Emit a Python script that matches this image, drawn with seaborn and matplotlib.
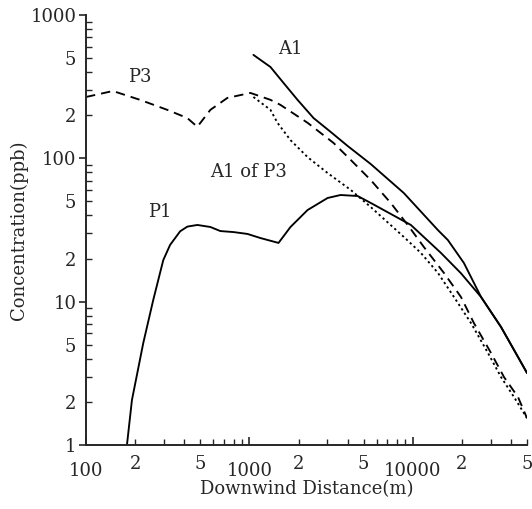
import math
import matplotlib
matplotlib.use("Agg")
import matplotlib.pyplot as plt
import matplotlib.ticker as mticker
import seaborn as sns
import pandas as pd

# values (log-log axes)
a1_x = [1058, 1345, 1617, 1970, 2470, 3141, 3993, 5520, 8810, 14240, 16400, 20560, 26140, 34670, 44060, 50000]
a1_y = [527, 434, 336, 256, 191, 153, 122, 91.4, 57.3, 31.6, 26.9, 18.6, 10.8, 6.66, 4.11, 3.18]

p1_x = [178, 191, 224, 258, 297, 327, 377, 417, 480, 577, 664, 798, 972, 1168, 1507, 1784, 2270, 3010,
        3613, 4598, 5520, 9730, 14860, 19700, 26140, 34670, 44060, 50000]
p1_y = [1.0, 2.06, 5.14, 10.3, 19.5, 24.9, 31.0, 33.4, 34.3, 33.2, 31.1, 30.6, 29.7, 27.8, 25.7, 33.2, 43.6, 52.9,
        55.5, 54.6, 48.9, 34.3, 21.9, 15.8, 10.8, 6.66, 4.11, 3.18]

p3_x = [100, 146, 214, 314, 417, 480, 577, 733, 1014, 1345, 1549, 2270, 3275, 4170, 5520, 7330,
        9310, 11680, 15490, 19700, 23650, 30100, 36150, 44060, 50000]
p3_y = [268, 295, 256, 218, 191, 166, 218, 264, 286, 256, 236, 177, 128, 97.5, 70.7, 48.8,
        34.3, 24.1, 15.9, 10.8, 7.1, 4.39, 2.98, 2.16, 1.54]

a1p3_x = [1058, 1345, 1485, 1784, 2270, 3010, 4170, 5520, 8810, 11200, 14240, 17850, 22700,
          28840, 34670, 41650, 50000]
a1p3_y = [268, 218, 177, 134, 102, 79, 60.2, 45.8, 28.3, 21.9, 15.9, 10.8, 7.1,
          4.39, 2.98, 2.16, 1.54]

series_names = ["A1", "P1", "P3", "A1 of P3"]
label_x = [1784, 284, 214, 986]
label_y = [580, 42.3, 370, 80]

frames = []
for name, xs, ys in zip(series_names,
                        [a1_x, p1_x, p3_x, a1p3_x],
                        [a1_y, p1_y, p3_y, a1p3_y]):
    frames.append(pd.DataFrame({"distance": xs, "conc": ys, "series": name}))
df = pd.concat(frames, ignore_index=True)

sns.set_style("ticks")
plt.rcParams["font.family"] = ["DejaVu Serif"]
plt.rcParams["font.size"] = 13

fig = plt.figure(figsize=(5.32, 5.09), dpi=100)
ax = fig.add_axes([0.1617, 0.1257, 0.8289, 0.8448])

sns.lineplot(data=df, x="distance", y="conc", style="series", units="series",
             estimator=None, sort=False, color="black", linewidth=1.35,
             dashes={"A1": "", "P1": "", "P3": (5.0, 3.2), "A1 of P3": (1.2, 1.6)},
             legend=False, ax=ax)

ax.set_xscale("log")
ax.set_yscale("log")
ax.set_xlim(100, 50000)
ax.set_ylim(1, 1000)


def minor_fmt(v, pos):
    m = v / 10 ** math.floor(math.log10(v) + 1e-9)
    m = int(round(m))
    return str(m) if m in (2, 5) else ""


ax.xaxis.set_major_locator(mticker.FixedLocator([100, 1000, 10000]))
ax.xaxis.set_major_formatter(mticker.FixedFormatter(["100", "1000", "10000"]))
ax.xaxis.set_minor_locator(mticker.LogLocator(base=10, subs=range(2, 10)))
ax.xaxis.set_minor_formatter(mticker.FuncFormatter(minor_fmt))

ax.yaxis.set_major_locator(mticker.FixedLocator([1, 10, 100, 1000]))
ax.yaxis.set_major_formatter(mticker.FixedFormatter(["1", "10", "100", "1000"]))
ax.yaxis.set_minor_locator(mticker.LogLocator(base=10, subs=range(2, 10)))
ax.yaxis.set_minor_formatter(mticker.FuncFormatter(minor_fmt))

ax.tick_params(axis="x", which="major", direction="in", length=6, width=1.2, pad=12, labelsize=13)
ax.tick_params(axis="x", which="minor", direction="in", length=4, width=1.0, pad=7, labelsize=13)
ax.tick_params(axis="y", which="major", direction="out", length=5, width=1.2, pad=2, labelsize=13)
ax.tick_params(axis="y", which="minor", direction="in", length=4, width=1.0, pad=7, labelsize=13)

for side in ["left", "bottom"]:
    ax.spines[side].set_linewidth(1.4)
sns.despine(ax=ax)

for name, lx, ly in zip(series_names, label_x, label_y):
    ax.text(lx, ly, name, ha="center", va="center", fontsize=13)

ax.set_xlabel("Downwind Distance(m)", fontsize=13, labelpad=0)
ax.set_ylabel("Concentration(ppb)", fontsize=13, labelpad=2)

fig.savefig("out.png", dpi=100)
